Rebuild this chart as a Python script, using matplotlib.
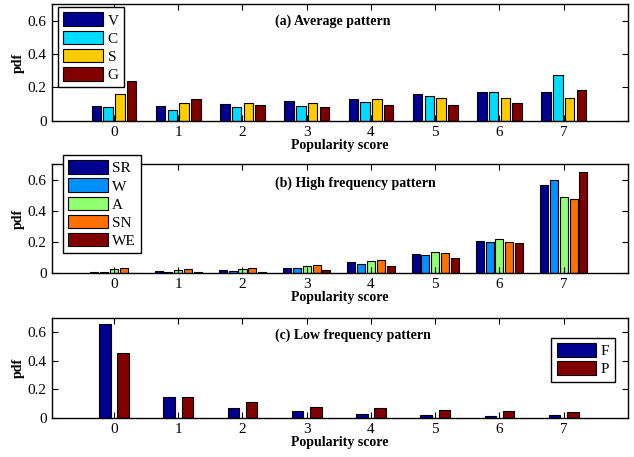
import numpy as np
import matplotlib
matplotlib.use('Agg')
from matplotlib import pyplot as plt
from matplotlib.ticker import FuncFormatter

scores = [0, 1, 2, 3, 4, 5, 6, 7]

# (a) Average pattern
avg_names = ['V', 'C', 'S', 'G']
avg_V = [0.087, 0.087, 0.099, 0.119, 0.129, 0.162, 0.172, 0.170]
avg_C = [0.083, 0.063, 0.079, 0.089, 0.111, 0.147, 0.174, 0.275]
avg_S = [0.158, 0.105, 0.105, 0.105, 0.133, 0.137, 0.135, 0.135]
avg_G = [0.240, 0.131, 0.093, 0.083, 0.095, 0.091, 0.105, 0.186]

# (b) High frequency pattern
high_names = ['SR', 'W', 'A', 'SN', 'WE']
high_SR = [0.002, 0.009, 0.015, 0.032, 0.067, 0.119, 0.207, 0.564]
high_W = [0.003, 0.003, 0.009, 0.028, 0.054, 0.112, 0.197, 0.600]
high_A = [0.022, 0.015, 0.026, 0.043, 0.076, 0.132, 0.216, 0.486]
high_SN = [0.032, 0.024, 0.028, 0.048, 0.080, 0.125, 0.201, 0.475]
high_WE = [0.001, 0.002, 0.003, 0.017, 0.045, 0.093, 0.190, 0.652]

# (c) Low frequency pattern
low_names = ['F', 'P']
low_F = [0.656, 0.148, 0.068, 0.047, 0.026, 0.021, 0.014, 0.016]
low_P = [0.452, 0.145, 0.108, 0.073, 0.066, 0.056, 0.047, 0.037]

plt.rcParams['font.family'] = ['Liberation Serif', 'DejaVu Serif']
plt.rcParams['font.size'] = 10

fig = plt.figure(figsize=(6.34, 4.57), dpi=100)

panels = [
    dict(pos=[0.0815, 0.736, 0.909, 0.255], series=[avg_V, avg_C, avg_S, avg_G], names=avg_names,
         colors=['#00008f', '#00dcff', '#ffcc00', '#800000'], step=0.183, width=0.145,
         title='(a) Average pattern', ty=0.6, leg=dict(loc='upper left', bbox_to_anchor=(0.011, 0.974))),
    dict(pos=[0.0815, 0.4033, 0.909, 0.2372], series=[high_SR, high_W, high_A, high_SN, high_WE], names=high_names,
         colors=['#00008f', '#0090ff', '#90ff70', '#ff7000', '#800000'], step=0.153, width=0.125,
         title='(b) High frequency pattern', ty=0.58, leg=dict(loc='upper left', bbox_to_anchor=(0.019, 1.086))),
    dict(pos=[0.0815, 0.086, 0.909, 0.219], series=[low_F, low_P], names=low_names,
         colors=['#00008f', '#800000'], step=0.286, width=0.18,
         title='(c) Low frequency pattern', ty=0.58, leg=dict(loc='upper right', bbox_to_anchor=(0.977, 0.80))),
]

x = np.array(scores)
for p in panels:
    ax = fig.add_axes(p['pos'])
    n = len(p['series'])
    for i, (vals, name, col) in enumerate(zip(p['series'], p['names'], p['colors'])):
        off = (i - (n - 1) / 2) * p['step']
        ax.bar(x + off, vals, width=p['width'], color=col, edgecolor='black', linewidth=0.8, label=name)
    ax.set_xlim(-0.97, 8.0)
    ax.set_ylim(0, 0.7)
    ax.set_xticks(scores)
    ax.set_yticks([0, 0.2, 0.4, 0.6])
    ax.yaxis.set_major_formatter(FuncFormatter(lambda v, _: '0' if v == 0 else '%g' % v))
    ax.tick_params(direction='in', top=True, right=True, length=4, labelsize=11, width=0.8)
    for s in ax.spines.values():
        s.set_linewidth(1.0)
    ax.set_xlabel('Popularity score', fontweight='bold', fontsize=10, labelpad=0)
    ax.set_ylabel('pdf', fontweight='bold', fontsize=10, labelpad=2)
    ax.text(2.5, p['ty'], p['title'], fontweight='bold', fontsize=10, va='center', ha='left')
    lg = ax.legend(borderaxespad=0, fancybox=False, edgecolor='black', framealpha=1,
                   handlelength=2.6, handleheight=1.0, handletextpad=0.3, labelspacing=0.2,
                   borderpad=0.35, fontsize=11, **p['leg'])
    lg.get_frame().set_linewidth(1.0)

fig.savefig('out.png', dpi=100)
